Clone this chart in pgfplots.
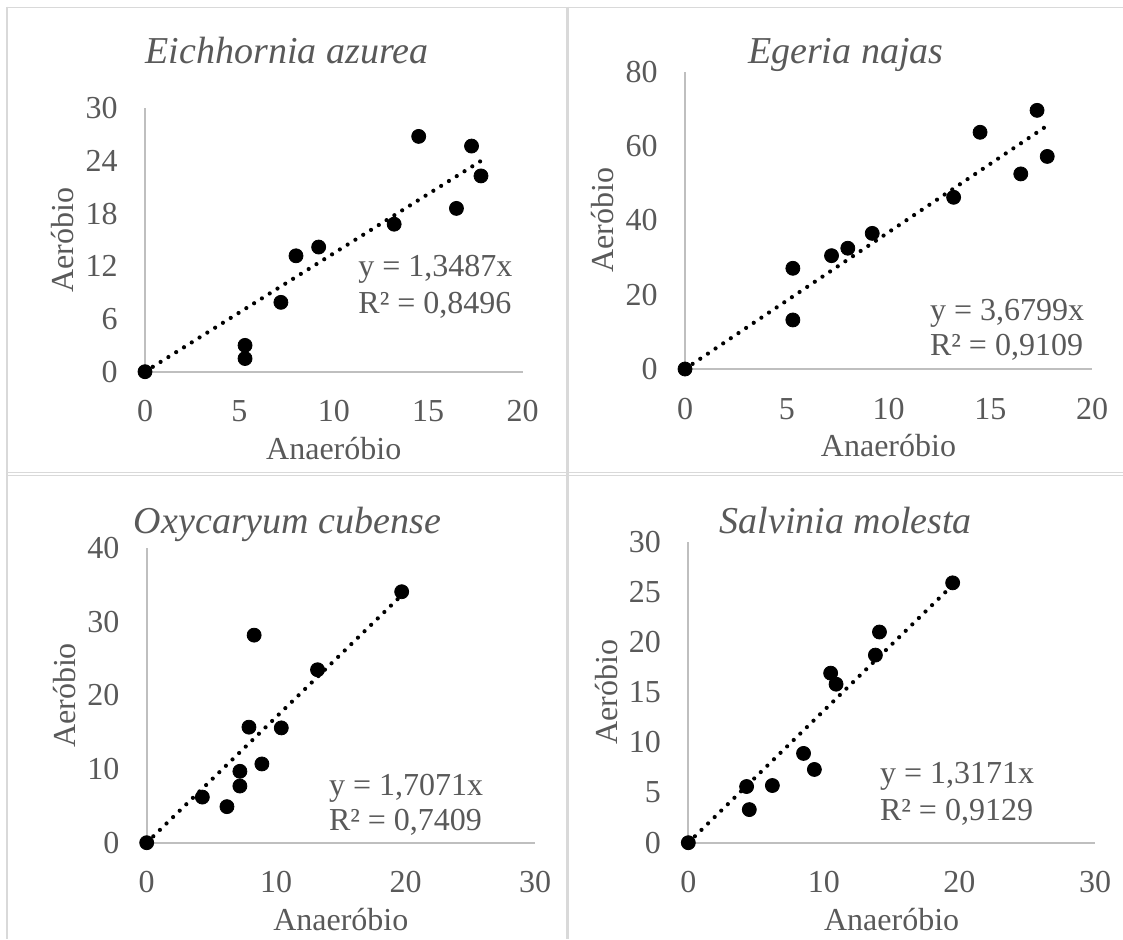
\documentclass[border=0pt]{standalone}
\usepackage{pgfplots}
\pgfplotsset{compat=1.18}
\usepackage{fontspec}
\setmainfont{Liberation Serif}
\definecolor{txt}{HTML}{595959}
\definecolor{axg}{HTML}{BFBFBF}
\definecolor{brd}{HTML}{D9D9D9}
\pgfplotsset{
  panel/.style={
    scale only axis, anchor=south west,
    axis lines=left, axis line style={draw=axg, line width=1pt, -},
    xmin=0, ymin=0, enlargelimits=false, clip=false,
    major tick length=0pt,
    tick label style={text=txt, font=\fontsize{16}{19}\selectfont, inner sep=0pt},
    xticklabel style={anchor=base, yshift=-25pt},
    yticklabel style={anchor=east, xshift=-13.5pt},
    /pgf/number format/assume math mode=true,
    xlabel={Anaeróbio}, ylabel={Aeróbio},
    every axis x label/.style={at={(axis description cs:0.5,0)}, anchor=base, yshift=-43.7pt, text=txt, font=\fontsize{16}{19}\selectfont},
    every axis y label/.style={at={(axis description cs:0,0.5)}, xshift=-41pt, rotate=90, anchor=center, text=txt, font=\fontsize{16}{19}\selectfont},
  },
  pts/.style={only marks, mark=*, mark size=3.5pt, black},
  trend/.style={black, line width=2.1pt, line cap=round, dash pattern=on 0pt off 4.6pt, mark=none},
}
\tikzset{
  ttl/.style={text=txt, font=\fontsize{19}{22}\selectfont\itshape, anchor=base, inner sep=0pt},
  eq/.style={text=txt, font=\fontsize{16}{19}\selectfont, anchor=base west, inner sep=0pt},
}
\begin{document}
\begin{tikzpicture}
\path[use as bounding box] (0,0) rectangle (561.5pt,469.5pt);
% table borders
\draw[brd, line width=0.85pt] (3.5pt,465.75pt) -- (561.5pt,465.75pt);
\draw[brd, line width=1.1pt] (3.5pt,466.2pt) -- (3.5pt,0pt);
\draw[brd, line width=1.35pt] (283.65pt,466.2pt) -- (283.65pt,0pt);
\draw[brd, line width=0.6pt] (3.5pt,233.1pt) -- (561.5pt,233.1pt);
\draw[brd, line width=0.6pt] (3.5pt,231.75pt) -- (561.5pt,231.75pt);

% Panel 1
\begin{axis}[panel, at={(72.5pt,283.65pt)}, width=188.75pt, height=131.7pt,
  xmax=20, ymax=30, xtick={0,5,10,15,20}, ytick={0,6,12,18,24,30}]
\addplot[pts] coordinates {(0,0) (5.3,3.0) (5.3,1.5) (7.2,7.9) (8.0,13.2) (9.2,14.2) (13.2,16.8) (14.5,26.8) (16.5,18.6) (17.3,25.7) (17.8,22.3)};
\addplot[trend] coordinates {(0,0) (17.8,24.01)};
\end{axis}
\node[ttl] at (143.5pt,437.75pt) {Eichhornia azurea};
\node[eq] at (179pt,331.15pt) {y = 1,3487x};
\node[eq] at (179pt,312.85pt) {R² = 0,8496};

% Panel 2
\begin{axis}[panel, at={(342.5pt,285pt)}, width=203.5pt, height=148.65pt,
  xmax=20, ymax=80, xtick={0,5,10,15,20}, ytick={0,20,40,60,80}]
\addplot[pts] coordinates {(0,0) (5.3,27.1) (5.3,13.2) (7.2,30.5) (8.0,32.5) (9.2,36.5) (13.2,46.2) (14.5,63.7) (16.5,52.5) (17.3,69.6) (17.8,57.2)};
\addplot[trend] coordinates {(0,0) (17.8,65.50)};
\end{axis}
\node[ttl] at (422.85pt,437.75pt) {Egeria najas};
\node[eq] at (464.8pt,309.5pt) {y = 3,6799x};
\node[eq] at (464.8pt,292pt) {R² = 0,9109};

% Panel 3
\begin{axis}[panel, at={(73.35pt,48.15pt)}, width=194.15pt, height=147.2pt,
  xmax=30, ymax=40, xtick={0,10,20,30}, ytick={0,10,20,30,40}]
\addplot[pts] coordinates {(0,0) (4.3,6.2) (6.2,4.9) (7.2,9.7) (7.2,7.7) (7.9,15.7) (8.3,28.2) (8.9,10.7) (10.4,15.6) (13.2,23.5) (19.7,34.1)};
\addplot[trend] coordinates {(0,0) (19.7,33.63)};
\end{axis}
\node[ttl] at (143.75pt,202.75pt) {Oxycaryum cubense};
\node[eq] at (164.3pt,72pt) {y = 1,7071x};
\node[eq] at (164.3pt,54.5pt) {R² = 0,7409};

% Panel 4
\begin{axis}[panel, at={(344.15pt,48.15pt)}, width=203.35pt, height=150.5pt,
  xmax=30, ymax=30, xtick={0,10,20,30}, ytick={0,5,10,15,20,25,30}]
\addplot[pts] coordinates {(0,0) (4.3,5.6) (4.5,3.3) (6.2,5.7) (8.5,8.9) (9.3,7.3) (10.5,16.9) (10.9,15.8) (13.8,18.7) (14.1,21.0) (19.5,25.9)};
\addplot[trend] coordinates {(0,0) (19.5,25.68)};
\end{axis}
\node[ttl] at (422.85pt,202.75pt) {Salvinia molesta};
\node[eq] at (439.8pt,78pt) {y = 1,3171x};
\node[eq] at (439.8pt,59.5pt) {R² = 0,9129};
\end{tikzpicture}
\end{document}
